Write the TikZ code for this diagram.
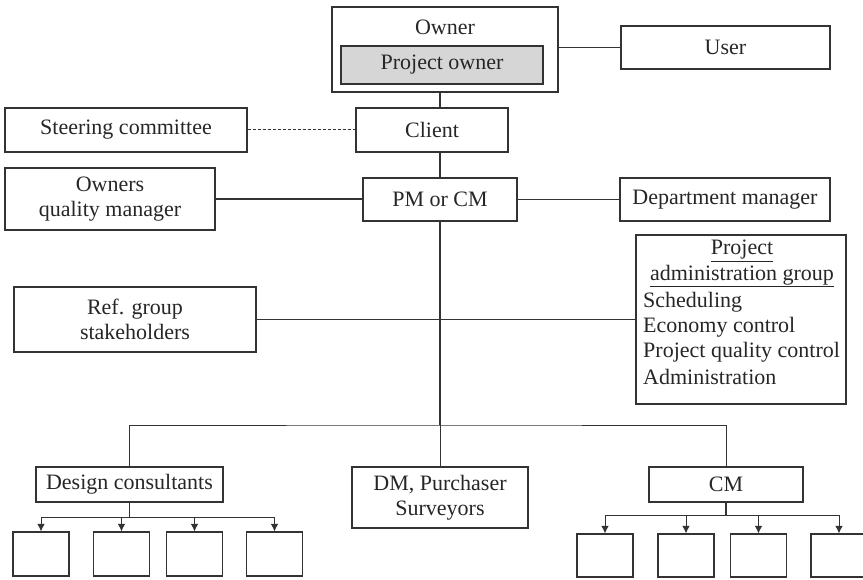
\documentclass[tikz,border=0pt]{standalone}
\usepackage{fontspec}
\setmainfont{Liberation Serif}
\usetikzlibrary{arrows.meta}
\definecolor{linec}{HTML}{333333}
\definecolor{grayfill}{HTML}{D6D6D6}
\newcommand{\fsz}{\fontsize{22}{25}\selectfont}
\tikzset{
  box/.style={draw=linec, line width=1.1pt, inner sep=0pt, align=center, font=\fsz, text=black!85},
  txt/.style={inner sep=0pt, font=\fsz, text=black!85},
  thick line/.style={draw=linec, line width=1.7pt},
  thin line/.style={draw=linec, line width=1pt},
  arr/.style={draw=linec, line width=1pt, -{Latex[length=7.5pt,width=7.5pt]}},
}
\begin{document}
\begin{tikzpicture}[x=1pt,y=-1pt]
\useasboundingbox (0,0) rectangle (863,580);
\clip (0,0) rectangle (863,580);
% top
\node[box, minimum width=226pt, minimum height=85pt] (owner) at (445,49.5) {};
\node[txt] (ownerlbl) at (445,27) {Owner};
\node[box, fill=grayfill, minimum width=202pt, minimum height=38pt] (powner) at (442,65) {Project owner};
\node[box, minimum width=209pt, minimum height=43pt] (user) at (725.5,47.5) {User};
\node[box, minimum width=152pt, minimum height=44pt] (client) at (432,130) {Client};
\node[box, minimum width=242pt, minimum height=44pt] (steer) at (126,130) {Steering committee};
\node[box, minimum width=210pt, minimum height=62pt] (oqm) at (110,199) {Owners\\quality manager};
\node[box, minimum width=154pt, minimum height=43pt] (pm) at (440,199.5) {PM or CM};
\node[box, minimum width=210pt, minimum height=43pt] (dept) at (725,199.5) {Department manager};
\node[box, minimum width=242pt, minimum height=65pt] (ref) at (135,319.5) {Ref. group\\stakeholders};
\node[box, minimum width=210pt, minimum height=169pt] (adm) at (741,319.5) {};
\node[txt] (admt1) at (742,251) {\underline{Project}};
\node[txt] (admt2) at (742,276) {\underline{administration group}};
\node[txt, anchor=west] (adm1) at (643,302) {Scheduling};
\node[txt, anchor=west] (adm2) at (643,327) {Economy control};
\node[txt, anchor=west] (adm3) at (643,352) {Project quality control};
\node[txt, anchor=west] (adm4) at (643,377) {Administration};
% bottom
\node[box, minimum width=187pt, minimum height=35pt] (des) at (129.5,484.5) {Design consultants};
\node[box, minimum width=176pt, minimum height=61pt] (dm) at (440,497.5) {DM, Purchaser\\Surveyors};
\node[box, minimum width=154pt, minimum height=35pt] (cm) at (726,484.5) {CM};
\foreach \n/\x in {1/41,2/121.5,3/194.5,4/274.5}
  \node[box, minimum width=56pt, minimum height=44pt] (d\n) at (\x,554) {};
\foreach \n/\x in {1/605,2/686,3/758.5,4/839}
  \node[box, minimum width=56pt, minimum height=43pt] (c\n) at (\x,555.5) {};
% connectors
\draw[thin line] (user.west -| owner.east) -- (user.west);
\draw[thick line] (pm.north |- owner.south) -- (pm.north |- client.north);
\draw[thick line] (pm.north |- client.south) -- (pm.north);
\draw[thin line, dash pattern=on 3pt off 2pt] (steer.east) -- (steer.east -| client.west);
\draw[thick line] (oqm.east) -- (oqm.east -| pm.west);
\draw[thick line] (pm.east) -- (pm.east -| dept.west);
\draw[thick line] (ref.east) -- (ref.east -| adm.west);
\coordinate (bus) at (440,425);
\draw[thick line] (pm.south) -- (bus);
\draw[thin line] (bus) -- (dm.north);
\draw[thin line] (des.north) |- (bus) -| (cm.north);
% design consultants sub-tree
\coordinate (dj) at (129.5,517);
\draw[thick line] (des.south) -- (dj);
\draw[thin line] (d1.north |- dj) -- (d4.north |- dj);
\foreach \n in {1,...,4} \draw[arr] (d\n.north |- dj) -- (d\n.north);
% CM sub-tree
\coordinate (cj) at (726,515);
\draw[thick line] (cm.south) -- (cj);
\draw[thin line] (c1.north |- cj) -- (c4.north |- cj);
\foreach \n in {1,...,4} \draw[arr] (c\n.north |- cj) -- (c\n.north);
\end{tikzpicture}
\end{document}
